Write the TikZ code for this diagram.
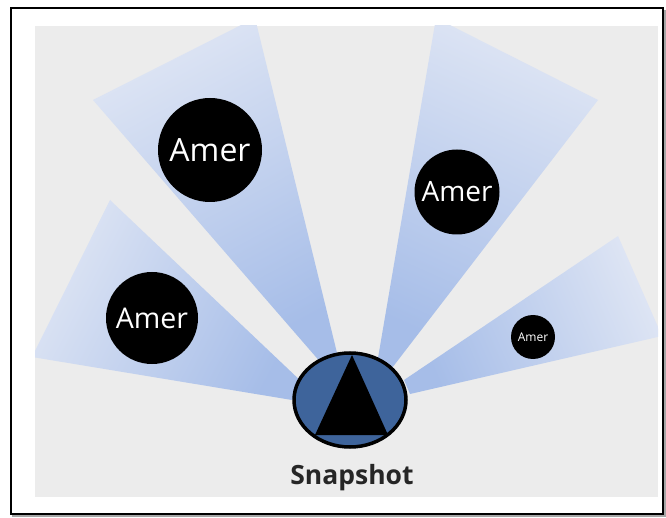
\documentclass[tikz,border=0pt]{standalone}
\usepackage{fontspec}
\setmainfont{Open Sans}
\definecolor{panel}{RGB}{236,236,236}
\definecolor{wnear}{RGB}{166,189,232}
\definecolor{wfar}{RGB}{222,229,244}
\definecolor{snapblue}{RGB}{62,100,155}
\tikzset{
  wedge/.style={top color=wfar, bottom color=wnear, draw=none},
  amer/.style={circle, fill=black, text=white, inner sep=0pt},
}
\begin{document}
\begin{tikzpicture}[x=1pt,y=-1pt]
\useasboundingbox (0,0) rectangle (666,518);
\fill[white] (0,0) rectangle (666,518);
% frame
\draw[black!35, line width=2pt] (13,11) rectangle (665,516);
\draw[black, line width=2.2pt] (11,8) rectangle (663,514);
\fill[white] (12.2,9.2) rectangle (661.8,512.8);
\fill[panel] (35,26) rectangle (658,497);
% wedges
\begin{scope}
\clip (35,26) rectangle (658,497);
\shade[wedge, shading angle=63] (110,200) -- (32,357) -- (292,400) -- (305,385) -- cycle;
\shade[wedge, shading angle=28] (93,100) -- (255,18) -- (338,357) -- (322,364) -- cycle;
\shade[wedge, shading angle=-24] (436,18) -- (598,100) -- (392,368) -- (378,358) -- cycle;
\shade[wedge, shading angle=-67] (618,236) -- (662,336) -- (410,394) -- (404,380) -- cycle;
\end{scope}
% circles
\node[amer, minimum size=104pt, font=\fontsize{32}{36}\selectfont] (a1) at (210,150) {Amer};
\node[amer, minimum size=92pt, font=\fontsize{28.5}{32}\selectfont] (a2) at (152,318) {Amer};
\node[amer, minimum size=85pt, font=\fontsize{28}{32}\selectfont] (a3) at (457,192) {Amer};
\node[amer, minimum size=44pt, font=\fontsize{12}{14}\selectfont] (a4) at (533,337) {Amer};
% snapshot
\draw[fill=snapblue, line width=3.5pt] (350,400) ellipse [x radius=56pt, y radius=47pt];
\fill[black] (352,355) -- (315,435) -- (388,435) -- cycle;
\node[font=\fontsize{26.5}{30}\selectfont\bfseries, text=black!85] (snap) at (352,478) {Snapshot};
\end{tikzpicture}
\end{document}
